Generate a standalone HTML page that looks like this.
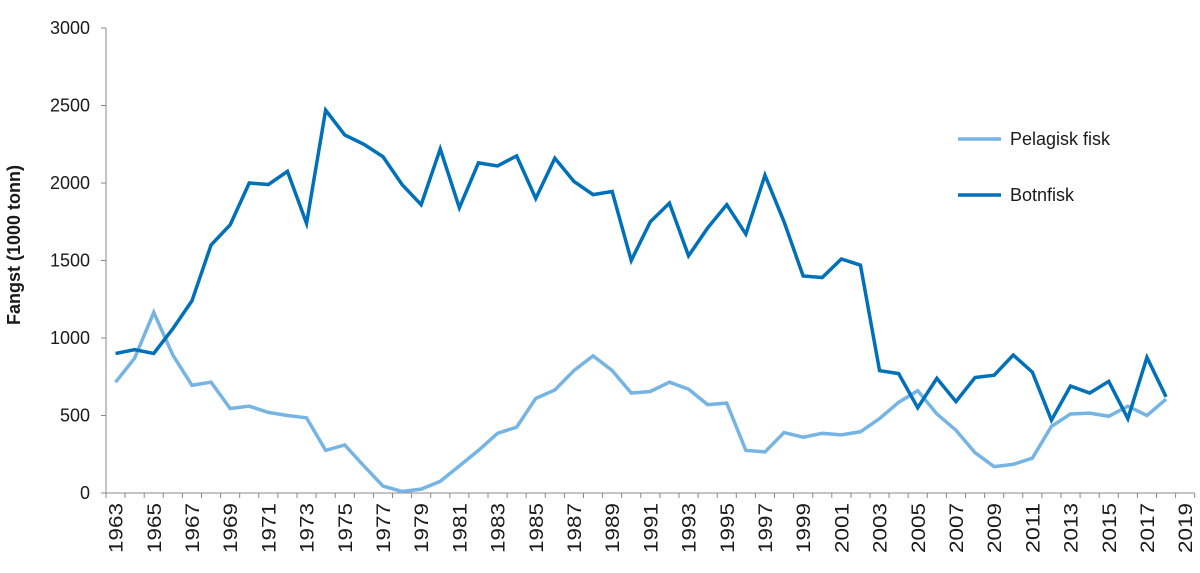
<!DOCTYPE html>
<html><head><meta charset="utf-8"><style>
body{margin:0;background:#fff}
svg text{font-family:"Liberation Sans",sans-serif;fill:#1a1a1a}
</style></head><body>
<svg id="chart" width="1200" height="568" viewBox="0 0 1200 568" xmlns="http://www.w3.org/2000/svg"></svg>
<script>
const years=[];for(let y=1963;y<=2018;y++)years.push(y);
const botnfisk=[900,925,900,1060,1240,1600,1730,2000,1990,2075,1740,2470,2310,2250,2170,1990,1860,2220,1840,2130,2110,2175,1900,2160,2010,1925,1945,1500,1750,1870,1530,1710,1860,1670,2050,1750,1400,1390,1510,1470,790,770,550,740,590,745,760,890,780,470,690,645,720,480,875,620];
const pelagisk=[715,870,1165,890,695,715,545,560,520,500,485,275,310,175,45,10,25,75,175,275,385,425,610,665,790,885,790,645,655,715,670,570,580,275,265,390,360,385,375,395,480,585,660,510,405,260,170,185,225,430,510,515,495,560,500,605];
const yTicks=[0,500,1000,1500,2000,2500,3000];
const xLabels=[];for(let y=1963;y<=2019;y+=2)xLabels.push(y);
const NS="http://www.w3.org/2000/svg",svg=document.getElementById('chart');
const x0=106,step=19.1,y0=493,yTop=28,yMax=3000;
const xs=yr=>x0+step*(yr-1963)+step/2;
const ys=v=>y0-(v/yMax)*(y0-yTop);
function el(t,a,p){const e=document.createElementNS(NS,t);for(const k in a)e.setAttribute(k,a[k]);(p||svg).appendChild(e);return e;}
let e;
e=el('line',{x1:x0,y1:yTop,x2:x0,y2:y0,stroke:'#888','stroke-width':1});


e=el('line',{x1:x0,y1:y0,x2:x0+step*57,y2:y0,stroke:'#888','stroke-width':1});


yTicks.forEach(v=>{
 el('line',{x1:x0-5,y1:ys(v),x2:x0,y2:ys(v),stroke:'#888'});
 const t=el('text',{x:90,y:ys(v)+6,'text-anchor':'end','font-size':18});t.textContent=v;
 
 
});
for(let i=0;i<=57;i++)el('line',{x1:x0+i*step,y1:y0,x2:x0+i*step,y2:y0+5,stroke:'#888'});
xLabels.forEach(yr=>{
 const cx=xs(yr);
 const t=el('text',{x:0,y:0,'text-anchor':'end','font-size':19,textLength:50,lengthAdjust:'spacingAndGlyphs',transform:`translate(${cx+7},503) rotate(-90)`});t.textContent=yr;
 
 
});
e=el('text',{x:0,y:0,'text-anchor':'middle','font-size':18,'font-weight':'bold',transform:'translate(20,245) rotate(-90)'});e.textContent='Fangst (1000 tonn)';


function line(data,col,name){
 const p=el('polyline',{points:data.map((v,i)=>xs(years[i])+','+ys(v)).join(' '),fill:'none',stroke:col,'stroke-width':3.5,'stroke-linejoin':'miter'});
 
 
}
line(pelagisk,'#75b4e3','pelagisk-fisk-line');
line(botnfisk,'#0070b8','botnfisk-line');
[['Pelagisk fisk','#75b4e3',139],['Botnfisk','#0070b8',195]].forEach(([n,c,y])=>{
 const g=el('g',{});
 
 
 el('line',{x1:958,y1:y,x2:1001,y2:y,stroke:c,'stroke-width':3.5},g);
 const t=el('text',{x:1010,y:y+6,'font-size':18},g);t.textContent=n;
});
</script>
</body></html>
